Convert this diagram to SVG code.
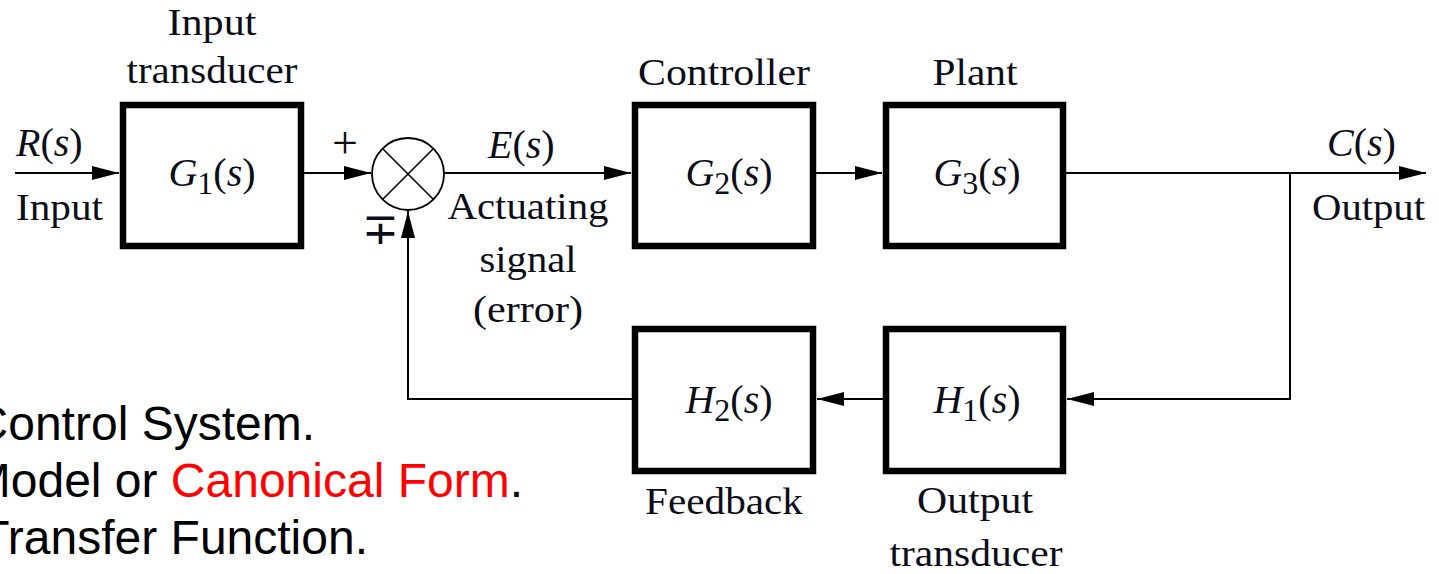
<svg xmlns="http://www.w3.org/2000/svg" width="1439" height="574" viewBox="0 0 1439 574">
<style>
.box{fill:#fff;stroke:#000;stroke-width:6.5}
.wire{fill:none;stroke:#000;stroke-width:2}
.lbl{font-family:"Liberation Serif","Times New Roman",serif;font-size:37px;fill:#0d0d1a}
.math{font-family:"Liberation Serif","Times New Roman",serif;font-size:40px;fill:#0d0d1a}
.it{font-style:italic}
.sub{font-size:32px}
.sans{font-family:"Liberation Sans",Arial,sans-serif;font-size:48px;fill:#000}
.red{fill:#ff0000}
</style>
<defs>
<marker id="arr" markerUnits="userSpaceOnUse" markerWidth="28" markerHeight="16" refX="27" refY="7" orient="auto">
<path d="M0,0 L27,7 L0,14 z" fill="#000"/>
</marker>
</defs>

<g id="connectors">
<line class="wire" x1="15" y1="173" x2="119" y2="173" marker-end="url(#arr)"/>
<line class="wire" x1="304" y1="173" x2="371" y2="173" marker-end="url(#arr)"/>
<line class="wire" x1="444" y1="173" x2="631" y2="173" marker-end="url(#arr)"/>
<line class="wire" x1="816" y1="173" x2="882" y2="173" marker-end="url(#arr)"/>
<line class="wire" x1="1066" y1="173" x2="1426" y2="173" marker-end="url(#arr)"/>
<polyline class="wire" points="1290,173 1290,399 1067,399" marker-end="url(#arr)"/>
<line class="wire" x1="883" y1="399" x2="817" y2="399" marker-end="url(#arr)"/>
<polyline class="wire" points="632,399 408,399 408,211" marker-end="url(#arr)"/>
<text class="math" x="16" y="156"><tspan class="it">R</tspan>(<tspan class="it">s</tspan>)</text>
<text class="lbl" x="16" y="220" textLength="87" lengthAdjust="spacingAndGlyphs">Input</text>
<text class="math" x="488" y="158"><tspan class="it">E</tspan>(<tspan class="it">s</tspan>)</text>
<text class="lbl" x="528" y="219" text-anchor="middle" textLength="161" lengthAdjust="spacingAndGlyphs">Actuating</text>
<text class="lbl" x="528" y="272" text-anchor="middle" textLength="97" lengthAdjust="spacingAndGlyphs">signal</text>
<text class="lbl" x="528" y="322" text-anchor="middle" textLength="110" lengthAdjust="spacingAndGlyphs">(error)</text>
<text class="math" x="1327" y="156"><tspan class="it">C</tspan>(<tspan class="it">s</tspan>)</text>
<text class="lbl" x="1312" y="220" textLength="113" lengthAdjust="spacingAndGlyphs">Output</text>
</g>

<g id="input-transducer">
<rect class="box" x="123" y="105" width="178" height="141"/>
<text class="math" x="212" y="186" text-anchor="middle"><tspan class="it">G</tspan><tspan class="sub" dy="8">1</tspan><tspan dy="-8">(</tspan><tspan class="it">s</tspan>)</text>
<text class="lbl" x="212" y="35" text-anchor="middle" textLength="89" lengthAdjust="spacingAndGlyphs">Input</text>
<text class="lbl" x="212" y="83" text-anchor="middle" textLength="171" lengthAdjust="spacingAndGlyphs">transducer</text>
</g>

<g id="summing-junction">
<circle cx="408" cy="174" r="36" fill="#fff" stroke="#000" stroke-width="1.8"/>
<line x1="382.5" y1="148.5" x2="433.5" y2="199.5" stroke="#000" stroke-width="1.6"/>
<line x1="433.5" y1="148.5" x2="382.5" y2="199.5" stroke="#000" stroke-width="1.6"/>
<text class="math" x="345" y="158" text-anchor="middle" style="font-size:46px">+</text>
<text class="math" x="380" y="244" text-anchor="middle" style="font-size:44px">∓</text>
</g>

<g id="controller">
<rect class="box" x="635" y="105" width="178" height="141"/>
<text class="math" x="729" y="186" text-anchor="middle"><tspan class="it">G</tspan><tspan class="sub" dy="8">2</tspan><tspan dy="-8">(</tspan><tspan class="it">s</tspan>)</text>
<text class="lbl" x="724" y="85" text-anchor="middle" textLength="172" lengthAdjust="spacingAndGlyphs">Controller</text>
</g>

<g id="plant">
<rect class="box" x="886" y="105" width="177" height="141"/>
<text class="math" x="977" y="186" text-anchor="middle"><tspan class="it">G</tspan><tspan class="sub" dy="8">3</tspan><tspan dy="-8">(</tspan><tspan class="it">s</tspan>)</text>
<text class="lbl" x="975" y="85" text-anchor="middle" textLength="85" lengthAdjust="spacingAndGlyphs">Plant</text>
</g>

<g id="feedback">
<rect class="box" x="635" y="329" width="178" height="142"/>
<text class="math" x="729" y="413" text-anchor="middle"><tspan class="it">H</tspan><tspan class="sub" dy="8">2</tspan><tspan dy="-8">(</tspan><tspan class="it">s</tspan>)</text>
<text class="lbl" x="724" y="514" text-anchor="middle" textLength="158" lengthAdjust="spacingAndGlyphs">Feedback</text>
</g>

<g id="output-transducer">
<rect class="box" x="886" y="329" width="177" height="142"/>
<text class="math" x="977" y="413" text-anchor="middle"><tspan class="it">H</tspan><tspan class="sub" dy="8">1</tspan><tspan dy="-8">(</tspan><tspan class="it">s</tspan>)</text>
<text class="lbl" x="975" y="513" text-anchor="middle" textLength="116" lengthAdjust="spacingAndGlyphs">Output</text>
<text class="lbl" x="976" y="566" text-anchor="middle" textLength="173" lengthAdjust="spacingAndGlyphs">transducer</text>
</g>

<g id="notes">
<text class="sans" x="315" y="440" text-anchor="end">Control System.</text>
<text class="sans" x="523" y="497" text-anchor="end">Model or <tspan class="red">Canonical Form</tspan>.</text>
<text class="sans" x="368" y="554" text-anchor="end">Transfer Function.</text>
</g>
</svg>
